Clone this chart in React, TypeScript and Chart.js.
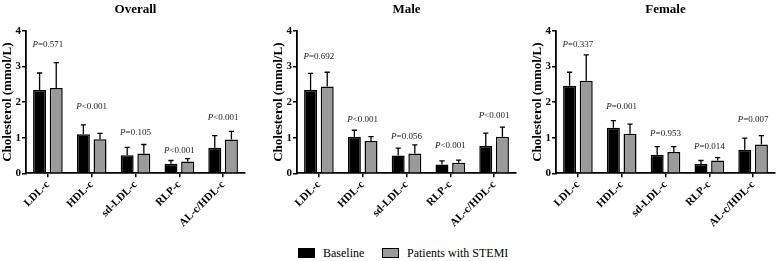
import React, { useEffect, useRef } from "react";
import { Chart, registerables } from "chart.js";

Chart.register(...registerables);

const CATEGORIES = ["LDL-c", "HDL-c", "sd-LDL-c", "RLP-c", "AL-c/HDL-c"];
const Y_MIN = 0;
const Y_MAX = 4;
const Y_STEP = 1;
const SERIES_NAMES = ["Baseline", "Patients with STEMI"];

// Overall
const overallBaseline = [2.34, 1.1, 0.51, 0.27, 0.72];
const overallBaselineSd = [0.48, 0.26, 0.22, 0.09, 0.34];
const overallStemi = [2.4, 0.96, 0.56, 0.33, 0.95];
const overallStemiSd = [0.71, 0.16, 0.25, 0.08, 0.23];
const overallP = ["=0.571", "<0.001", "=0.105", "<0.001", "<0.001"];
const overallPY = [3.61, 1.87, 1.13, 0.65, 1.56];

// Male
const maleBaseline = [2.34, 1.03, 0.5, 0.25, 0.77];
const maleBaselineSd = [0.47, 0.18, 0.21, 0.1, 0.36];
const maleStemi = [2.44, 0.91, 0.56, 0.3, 1.03];
const maleStemiSd = [0.4, 0.12, 0.24, 0.07, 0.27];
const maleP = ["=0.692", "<0.001", "=0.056", "<0.001", "<0.001"];
const malePY = [3.28, 1.5, 1.03, 0.78, 1.62];

// Female
const femaleBaseline = [2.46, 1.28, 0.52, 0.26, 0.66];
const femaleBaselineSd = [0.38, 0.2, 0.23, 0.1, 0.33];
const femaleStemi = [2.6, 1.11, 0.6, 0.36, 0.81];
const femaleStemiSd = [0.73, 0.27, 0.15, 0.08, 0.25];
const femaleP = ["=0.337", "=0.001", "=0.953", "=0.014", "=0.007"];
const femalePY = [3.61, 1.86, 1.11, 0.74, 1.52];

const FONT = "'Liberation Serif', 'Times New Roman', serif";
const GRAY = "#9a9a9a";

type Panel = {
  title: string;
  base: number[];
  baseSd: number[];
  stemi: number[];
  stemiSd: number[];
  p: string[];
  pY: number[];
  left: number;
  width: number;
  rightPad: number;
};

const PANELS: Panel[] = [
  { title: "Overall", base: overallBaseline, baseSd: overallBaselineSd, stemi: overallStemi, stemiSd: overallStemiSd, p: overallP, pY: overallPY, left: 0, width: 250, rightPad: 5 },
  { title: "Male", base: maleBaseline, baseSd: maleBaselineSd, stemi: maleStemi, stemiSd: maleStemiSd, p: maleP, pY: malePY, left: 271, width: 250, rightPad: 5 },
  { title: "Female", base: femaleBaseline, baseSd: femaleBaselineSd, stemi: femaleStemi, stemiSd: femaleStemiSd, p: femaleP, pY: femalePY, left: 530, width: 248, rightPad: 3 },
];

const CANVAS_H = 240;
const PLOT_TOP = 31;
const PLOT_BOTTOM = 173.3;
const Y_AXIS_W = 26;

const errorBarPlugin = {
  id: "errorBars",
  afterDatasetsDraw(chart: any) {
    const ctx = chart.ctx;
    const yScale = chart.scales.y;
    chart.data.datasets.forEach((ds: any, di: number) => {
      const meta = chart.getDatasetMeta(di);
      const sds: number[] = ds.sd || [];
      meta.data.forEach((bar: any, i: number) => {
        const v = ds.data[i];
        const top = yScale.getPixelForValue(v + sds[i]);
        const cap = bar.width * 0.2;
        ctx.save();
        ctx.strokeStyle = "#000";
        ctx.lineWidth = 1.3;
        ctx.beginPath();
        ctx.moveTo(bar.x, bar.y);
        ctx.lineTo(bar.x, top);
        ctx.moveTo(bar.x - cap, top);
        ctx.lineTo(bar.x + cap, top);
        ctx.stroke();
        ctx.restore();
      });
    });
  },
};

const annotPlugin = {
  id: "annot",
  afterDraw(chart: any, _args: any, opts: any) {
    const ctx = chart.ctx;
    const area = chart.chartArea;
    const xs = chart.scales.x;
    const ys = chart.scales.y;
    ctx.save();
    ctx.fillStyle = "#000";
    ctx.font = `bold 13px ${FONT}`;
    ctx.textAlign = "center";
    ctx.textBaseline = "alphabetic";
    ctx.fillText(opts.title, (area.left + area.right) / 2, 13);
    const pTexts: string[] = opts.p;
    const pYs: number[] = opts.pY;
    pTexts.forEach((t, i) => {
      const x = xs.getPixelForValue(i);
      const y = ys.getPixelForValue(pYs[i]);
      ctx.font = `italic 9px ${FONT}`;
      const wP = ctx.measureText("P").width;
      ctx.font = `9px ${FONT}`;
      const wR = ctx.measureText(t).width;
      const start = x - (wP + wR) / 2;
      ctx.fillStyle = "#222";
      ctx.textAlign = "left";
      ctx.textBaseline = "middle";
      ctx.font = `italic 9px ${FONT}`;
      ctx.fillText("P", start, y);
      ctx.font = `9px ${FONT}`;
      ctx.fillText(t, start + wP, y);
    });
    ctx.restore();
  },
};

function PanelChart({ panel }: { panel: Panel }) {
  const ref = useRef<HTMLCanvasElement>(null);
  useEffect(() => {
    if (!ref.current) return;
    const chart = new Chart(ref.current, {
      type: "bar",
      data: {
        labels: CATEGORIES,
        datasets: [
          { label: SERIES_NAMES[0], data: panel.base, sd: panel.baseSd, backgroundColor: "#000", borderColor: "#000", borderWidth: 1.5 } as any,
          { label: SERIES_NAMES[1], data: panel.stemi, sd: panel.stemiSd, backgroundColor: GRAY, borderColor: "#000", borderWidth: 1.5 } as any,
        ],
      },
      options: {
        responsive: false,
        animation: false,
        devicePixelRatio: 1,
        layout: { padding: { top: PLOT_TOP, right: panel.rightPad, left: 0, bottom: 0 } },
        datasets: { bar: { categoryPercentage: 0.76, barPercentage: 0.78 } },
        plugins: {
          legend: { display: false },
          tooltip: { enabled: false },
          annot: { title: panel.title, p: panel.p, pY: panel.pY },
        } as any,
        scales: {
          x: {
            grid: { display: true, drawOnChartArea: false, drawTicks: true, tickLength: 4, offset: false, color: "#000", lineWidth: 1.5 },
            border: { display: true, color: "#000", width: 1.8 },
            ticks: { maxRotation: 45, minRotation: 45, autoSkip: false, color: "#000", padding: 1, font: { family: FONT, size: 11, weight: "bold" } },
            afterFit: (s: any) => { s.height = CANVAS_H - PLOT_BOTTOM; },
          },
          y: {
            min: Y_MIN,
            max: Y_MAX,
            ticks: { stepSize: Y_STEP, color: "#000", padding: 1, font: { family: FONT, size: 11, weight: "bold" } },
            grid: { drawOnChartArea: false, drawTicks: true, tickLength: 4, color: "#000", lineWidth: 1.5 },
            border: { display: true, color: "#000", width: 1.8 },
            title: { display: true, text: "Cholesterol (mmol/L)", color: "#000", padding: 0, font: { family: FONT, size: 13, weight: "bold" } },
            afterFit: (s: any) => { s.width = Y_AXIS_W; },
          },
        } as any,
      },
      plugins: [errorBarPlugin, annotPlugin],
    });
    return () => chart.destroy();
  }, [panel]);
  return (
    <canvas
      ref={ref}
      width={panel.width}
      height={CANVAS_H}
      style={{ position: "absolute", left: panel.left, top: 0, width: panel.width, height: CANVAS_H }}
    />
  );
}

export default function App() {
  const legendText: React.CSSProperties = { position: "absolute", top: 245, fontFamily: FONT, fontSize: 12, lineHeight: "16px", color: "#000", whiteSpace: "nowrap" };
  return (
    <div style={{ position: "absolute", left: 0, top: 0, width: 778, height: 261, overflow: "hidden", background: "#fff" }}>
      {PANELS.map((p) => (
        <PanelChart key={p.title} panel={p} />
      ))}
      <div style={{ position: "absolute", left: 298, top: 248, width: 17, height: 10, background: "#000" }} />
      <div style={{ ...legendText, left: 323 }}>{SERIES_NAMES[0]}</div>
      <div style={{ position: "absolute", left: 382, top: 248, width: 17, height: 10, background: GRAY, border: "1.5px solid #000", boxSizing: "border-box" }} />
      <div style={{ ...legendText, left: 407 }}>{SERIES_NAMES[1]}</div>
    </div>
  );
}
